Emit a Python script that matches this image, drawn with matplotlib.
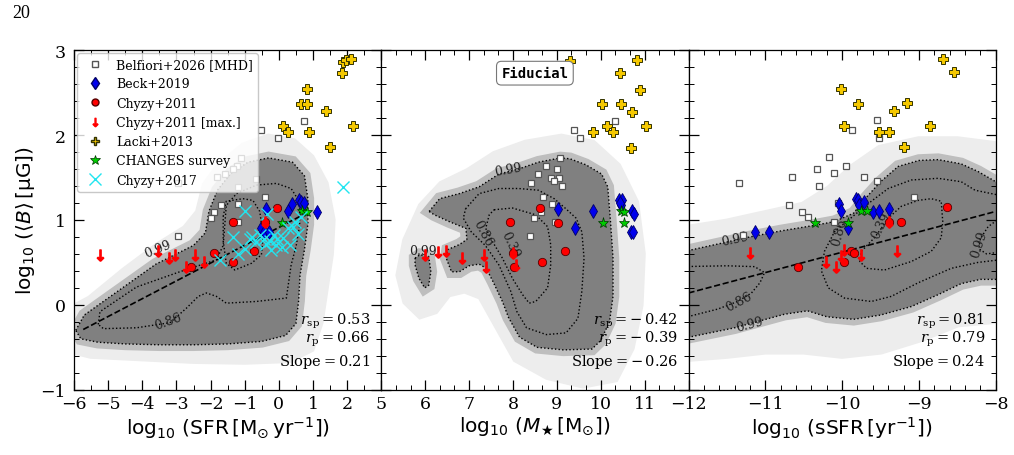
import numpy as np
import matplotlib
matplotlib.use('Agg')
import matplotlib.pyplot as plt
from matplotlib.ticker import MultipleLocator
from matplotlib.lines import Line2D

plt.rcParams['font.family'] = 'DejaVu Serif'
plt.rcParams['mathtext.fontset'] = 'dejavusans'

# ---------------- observations, left panel: SFR ----------------
belf_sfr = [0.75, -0.51, -0.03, -1.12, -1.24, -1.34, -1.58, -1.80, -0.66, -2.95,
            -1.19, -0.42, -1.68, -1.19, -1.91, -1.99, -1.19, -2.95]
belf_b_sfr = [2.17, 2.06, 1.96, 1.73, 1.63, 1.60, 1.54, 1.50, 1.48, 1.43,
              1.39, 1.27, 1.17, 1.19, 1.09, 1.02, 0.98, 0.81]
beck_sfr = [-0.39, 0.27, 0.39, 0.59, 0.66, 0.73, 1.12, -0.51, -0.44, -0.30]
beck_b_sfr = [1.125, 1.10, 1.19, 1.23, 1.21, 1.20, 1.09, 0.91, 0.86, 0.86]
chy_sfr = [-0.04, -1.34, -0.40, -1.90, -0.73, -1.34, -2.58]
chy_b_sfr = [1.14, 0.98, 0.98, 0.61, 0.64, 0.51, 0.45]
chymax_sfr = [-5.24, -3.55, -3.22, -3.05, -2.46, -2.73, -2.19, -0.40]
chymax_b_sfr = [0.59, 0.64, 0.55, 0.59, 0.59, 0.45, 0.50, 0.98]
lacki_sfr = [1.87, 1.97, 2.12, 1.86, 0.83, 0.64, 0.83, 1.37, 0.12, 0.27, 0.87, 2.17, 1.49]
lacki_b_sfr = [2.86, 2.88, 2.89, 2.73, 2.54, 2.36, 2.37, 2.28, 2.11, 2.04, 2.04, 2.11, 1.86]
changes_sfr = [0.68, 0.83, 0.09]
changes_b_sfr = [1.10, 1.09, 0.96]
chy17_sfr = [1.88, -1.0, -0.35, -1.34, -0.78, -1.0, -1.20, -1.73, -0.56, -0.44, -0.27, -0.15, -0.06,
             0.12, 0.10, 0.27, 0.41, 0.32, 0.56, 0.46, 0.66, -0.22, -0.37, -0.66, -0.07, -0.85]
chy17_b_sfr = [1.39, 1.11, 1.07, 0.80, 0.80, 0.66, 0.60, 0.53, 0.82, 0.78, 0.75, 0.82, 0.77,
               0.79, 0.68, 0.90, 0.92, 0.70, 0.84, 0.98, 1.03, 0.65, 0.72, 0.74, 0.71, 0.77]
fit_sfr = [-5.73, 0.85]
fit_b_sfr = [-0.29, 1.09]

# ---------------- middle panel: stellar mass ----------------
belf_ms = [10.32, 9.38, 9.53, 9.08, 8.76, 9.01, 8.56, 8.87, 9.06, 8.94, 9.11, 8.41,
           8.68, 8.90, 8.65, 8.49, 8.95, 8.38]
belf_b_ms = [2.17, 2.06, 1.96, 1.73, 1.64, 1.60, 1.54, 1.49, 1.49, 1.46, 1.40, 1.43,
             1.27, 1.19, 1.09, 1.02, 0.98, 0.81]
beck_ms = [9.03, 9.82, 9.42, 10.41, 10.49, 10.47, 10.45, 10.72, 10.75, 10.70, 10.74]
beck_b_ms = [1.125, 1.10, 0.91, 1.23, 1.24, 1.17, 1.20, 1.10, 1.07, 0.86, 0.86]
chy_ms = [8.61, 9.03, 7.93, 9.19, 7.99, 8.66, 8.03]
chy_b_ms = [1.14, 0.96, 0.98, 0.63, 0.61, 0.50, 0.45]
chymax_ms = [6.0, 6.29, 6.48, 6.85, 7.33, 7.39, 8.06, 8.0]
chymax_b_ms = [0.59, 0.62, 0.64, 0.55, 0.59, 0.44, 0.47, 0.61]
lacki_ms = [9.30, 10.83, 10.45, 10.90, 10.02, 10.47, 10.72, 10.14, 9.82, 10.29, 11.04, 10.70]
lacki_b_ms = [2.87, 2.88, 2.73, 2.53, 2.37, 2.36, 2.27, 2.11, 2.04, 2.04, 2.11, 1.85]
changes_ms = [10.05, 10.47, 10.54, 10.52]
changes_b_ms = [0.96, 1.10, 1.09, 0.96]

# ---------------- right panel: sSFR ----------------
belf_ssfr = [-9.54, -9.87, -9.52, -10.17, -9.95, -10.33, -10.11, -10.65, -9.72, -9.55,
             -11.34, -10.30, -10.06, -10.69, -10.52, -10.44, -10.11, -9.06, -11.29]
belf_b_ssfr = [2.18, 2.06, 1.97, 1.74, 1.64, 1.60, 1.55, 1.50, 1.50, 1.46,
               1.43, 1.40, 1.20, 1.18, 1.09, 1.03, 0.98, 1.27, 0.82]
beck_ssfr = [-11.14, -10.95, -10.04, -10.02, -9.82, -9.79, -9.78, -9.71, -9.60, -9.52, -9.39, -9.92]
beck_b_ssfr = [0.86, 0.86, 1.19, 1.11, 1.25, 1.23, 1.18, 1.21, 1.09, 1.11, 1.13, 0.90]
chy_ssfr = [-8.63, -9.23, -9.39, -9.88, -9.85, -9.97, -10.58]
chy_b_ssfr = [1.15, 0.98, 0.97, 0.64, 0.61, 0.51, 0.45]
chymax_ssfr = [-11.20, -10.21, -10.08, -10.02, -9.97, -9.76, -9.29, -9.39]
chymax_b_ssfr = [0.61, 0.50, 0.45, 0.57, 0.65, 0.59, 0.63, 0.97]
lacki_ssfr = [-8.69, -8.54, -10.02, -9.79, -9.16, -9.32, -9.98, -9.52, -9.39, -8.85, -9.20]
lacki_b_ssfr = [2.89, 2.74, 2.54, 2.37, 2.38, 2.28, 2.11, 2.04, 2.04, 2.11, 1.86]
changes_ssfr = [-10.35, -9.93, -9.75, -9.67]
changes_b_ssfr = [0.96, 0.96, 1.11, 1.10]
fit_ssfr = [-12.0, -8.0]
fit_b_ssfr = [0.14, 1.10]

# correlation numbers printed in each panel
r_sp = [0.53, -0.42, 0.81]
r_p = [0.66, -0.39, 0.79]
slope = [0.21, -0.26, 0.24]

# ---------------- simulation cloud outlines ----------------
halo_sfr_x = [-6.2, -5.5, -4.5, -3.5, -2.7, -2.3, -2.1, -1.7, -1.0, -0.3, 0.4, 0.9, 1.3, 1.5,
              1.45, 1.3, 1.15, 0.9, 0.3, -1.0, -2.5, -4.0, -5.5, -6.2]
halo_sfr_y = [-0.1, 0.05, 0.38, 0.68, 0.88, 1.08, 1.40, 1.62, 1.85, 1.95, 1.90, 1.72, 1.42, 1.0,
              0.6, 0.2, -0.2, -0.5, -0.62, -0.64, -0.63, -0.60, -0.57, -0.5]
c99_sfr_x = [-5.95, -5.7, -5.0, -4.3, -3.6, -3.0, -2.5, -2.15, -2.05, -1.8, -1.4, -0.9, -0.3,
             0.4, 0.75, 0.85, 0.85, 0.75, 0.62, 0.58, 0.5, 0.2, -0.5, -1.5, -2.5, -3.5, -4.5,
             -5.3, -5.8, -5.95]
c99_sfr_y = [-0.30, -0.12, 0.08, 0.28, 0.48, 0.60, 0.70, 0.85, 1.10, 1.35, 1.55, 1.68, 1.73,
             1.68, 1.52, 1.25, 0.95, 0.65, 0.35, 0.05, -0.22, -0.36, -0.43, -0.46, -0.47, -0.47,
             -0.46, -0.44, -0.40, -0.30]
c86_sfr_x = [-5.29, -5.24, -4.65, -4.17, -2.90, -1.83, -1.63, -1.54, -1.24, -0.66, -0.07, 0.36,
             0.61, 0.61, 0.51, 0.36, 0.22, -0.66, -1.54, -1.83, -2.12, -2.36, -2.71, -3.19,
             -4.17, -5.14, -5.29]
c86_sfr_y = [-0.23, -0.08, 0.08, 0.21, 0.39, 0.53, 0.70, 1.17, 1.31, 1.41, 1.43, 1.37, 1.21,
             0.94, 0.70, 0.47, 0.08, 0.04, 0.02, 0.10, 0.14, 0.10, -0.04, -0.21, -0.27, -0.28,
             -0.23]
c39_sfr_x = [-1.63, -1.54, -1.05, -0.76, -0.56, -0.46, -0.51, -0.80, -1.29, -1.54, -1.63, -1.63]
c39_sfr_y = [1.04, 1.22, 1.25, 1.23, 1.10, 0.82, 0.59, 0.49, 0.41, 0.49, 0.75, 1.04]

halo_ms_x = [5.45, 5.6, 5.95, 6.4, 7.0, 7.6, 8.3, 9.1, 9.8, 10.35, 10.75, 10.9, 10.85, 10.65,
             10.3, 9.6, 8.8, 8.1, 7.7, 7.3, 6.9, 6.5, 6.2, 5.9, 5.6]
halo_ms_y = [0.35, 0.75, 1.15, 1.40, 1.55, 1.75, 1.88, 1.95, 1.88, 1.62, 1.2, 0.6, 0.0, -0.5,
             -0.85, -0.92, -0.82, -0.62, -0.25, 0.12, 0.2, 0.15, -0.05, -0.1, 0.05]
c99_ms_x = [6.09, 6.33, 6.78, 7.23, 7.68, 8.13, 8.58, 9.08, 9.30, 9.66, 10.02, 10.16, 10.22,
            10.28, 10.28, 10.2, 10.0, 9.8, 9.15, 8.55, 8.15, 7.9, 7.76, 7.54, 7.39, 7.23, 7.0,
            6.78, 6.6, 6.48, 6.51, 6.78, 6.95, 6.93, 6.55, 6.21, 6.09]
c99_ms_y = [1.10, 1.25, 1.31, 1.39, 1.54, 1.60, 1.68, 1.73, 1.72, 1.65, 1.54, 1.39, 1.0, 0.55,
            0.1, -0.2, -0.42, -0.52, -0.53, -0.50, -0.38, -0.15, 0.04, 0.28, 0.43, 0.48, 0.46,
            0.39, 0.39, 0.55, 0.65, 0.71, 0.77, 0.90, 0.98, 1.06, 1.10]
isl_ms_x = [5.77, 5.88, 6.08, 6.13, 6.08, 5.99, 5.86, 5.77, 5.77]
isl_ms_y = [0.55, 0.59, 0.57, 0.39, 0.23, 0.20, 0.31, 0.47, 0.55]
c86_ms_x = [6.92, 7.23, 7.68, 8.13, 8.58, 8.94, 9.21, 9.44, 9.57, 9.62, 9.57, 9.48, 9.21, 8.76,
            8.31, 8.09, 7.95, 7.68, 7.37, 7.05, 6.87, 6.92]
c86_ms_y = [1.13, 1.31, 1.37, 1.37, 1.35, 1.25, 1.13, 1.02, 0.86, 0.55, 0.16, -0.16, -0.33,
            -0.35, -0.27, -0.08, 0.16, 0.47, 0.70, 0.86, 1.02, 1.13]
c39_ms_x = [7.57, 7.99, 8.52, 8.79, 8.86, 8.86, 8.79, 8.52, 8.37, 8.22, 7.99, 7.76, 7.54, 7.38,
            7.46, 7.57]
c39_ms_y = [1.12, 1.14, 1.06, 0.92, 0.71, 0.47, 0.20, 0.04, 0.02, 0.12, 0.31, 0.55, 0.74, 0.90,
            1.06, 1.12]

halo_ssfr_x = [-12.2, -11.5, -11.0, -10.5, -10.15, -9.85, -9.5, -9.0, -8.5, -7.9, -7.9, -8.5,
               -9.0, -9.5, -10.0, -10.5, -11.0, -11.5, -12.2]
halo_ssfr_y = [0.85, 0.95, 1.05, 1.15, 1.35, 1.60, 1.82, 1.92, 1.92, 1.85, -0.15, -0.2, -0.38,
               -0.52, -0.57, -0.52, -0.52, -0.57, -0.62]
c99up_ssfr_x = [-12.1, -11.6, -11.2, -10.8, -10.4, -10.1, -9.85, -9.7, -9.5, -9.27, -9.0, -8.75,
                -8.45, -8.23, -8.0, -7.9]
c99up_ssfr_y = [0.62, 0.72, 0.80, 0.87, 0.93, 0.98, 1.08, 1.25, 1.45, 1.63, 1.70, 1.71, 1.66,
                1.57, 1.45, 1.40]
c99lo_ssfr_x = [-7.9, -8.2, -8.45, -8.75, -9.1, -9.5, -9.85, -10.2, -10.45, -10.75, -11.4, -12.1]
c99lo_ssfr_y = [0.30, 0.30, 0.25, 0.12, -0.02, -0.12, -0.17, -0.14, -0.07, -0.11, -0.27, -0.40]
c99rt_ssfr_x = [-7.95, -8.1, -8.2, -8.22, -8.12, -7.95]
c99rt_ssfr_y = [1.02, 0.92, 0.78, 0.66, 0.60, 0.62]
c86lf_ssfr_x = [-12.1, -11.5, -11.14, -11.01, -11.07, -11.18, -11.36, -11.62, -12.1]
c86lf_ssfr_y = [0.45, 0.46, 0.45, 0.38, 0.26, 0.14, 0.04, -0.05, -0.16]
c86rt_ssfr_x = [-7.95, -8.27, -8.45, -8.75, -9.10, -9.40, -9.62, -9.85, -10.10, -10.23, -10.27,
                -10.18, -9.97, -9.62, -9.36, -9.01, -8.58, -8.23, -7.95]
c86rt_ssfr_y = [1.29, 1.35, 1.45, 1.49, 1.47, 1.37, 1.22, 1.05, 0.86, 0.63, 0.40, 0.20, 0.08,
                0.04, 0.10, 0.26, 0.43, 0.50, 0.53]
c39_ssfr_x = [-9.49, -9.58, -9.75, -9.77, -9.68, -9.45, -9.10, -8.84, -8.71, -8.69, -8.71,
              -8.84, -9.01, -9.23, -9.40, -9.49]
c39_ssfr_y = [0.90, 0.79, 0.63, 0.51, 0.43, 0.41, 0.51, 0.63, 0.79, 0.98, 1.22, 1.25, 1.23,
              1.16, 1.02, 0.90]


def draw_cloud(ax, hx, hy, dark):
    # pale halo of sparse points, then dense core with a soft edge
    ax.fill(hx, hy, facecolor='#ededed', edgecolor='#ededed', lw=8, zorder=1)
    for dx, dy in dark:
        ax.fill(dx, dy, facecolor='none', edgecolor='#bebebe', lw=9, zorder=1.2)
    for dx, dy in dark:
        ax.fill(dx, dy, facecolor='#808080', lw=0, zorder=1.4)


def draw_lines(ax, lines, labels):
    for lx, ly in lines:
        ax.plot(lx, ly, ls=(0, (1, 1.6)), color='k', lw=1.0, zorder=2)
    for x, y, s, rot in labels:
        ax.text(x, y, s, fontsize=9, rotation=rot, ha='center', va='center',
                color='#222222', zorder=2.5)


def draw_obs(ax, belf, beck, chy, chymax, lacki, changes):
    ax.plot(*belf, 's', ms=5, mfc='white', mec='#555555', mew=0.9, ls='none', zorder=5)
    ax.plot(*beck, 'd', ms=7.5, mfc='#0000ee', mec='#000066', mew=0.6, ls='none', zorder=5)
    ax.plot(*chy, 'o', ms=6, mfc='#ff0000', mec='#550000', mew=0.6, ls='none', zorder=5)
    ax.plot(*chymax, marker=r'$\downarrow$', ms=8, color='#ff0000', ls='none', zorder=6)
    ax.plot(*lacki, 'P', ms=7.5, mfc='#f5c800', mec='#333300', mew=0.7, ls='none', zorder=5)
    ax.plot(*changes, '*', ms=8, mfc='#00cc00', mec='#003300', mew=0.5, ls='none', zorder=5)


def signed(v):
    # reference prints negatives as "= - 0.42" with a spaced minus
    return ('-\\,%.2f' % abs(v)) if v < 0 else ('%.2f' % v)


fig, axes = plt.subplots(1, 3, sharey=True, figsize=(10.14, 4.56), dpi=100)
fig.subplots_adjust(left=0.073, right=0.982, bottom=0.143, top=0.888, wspace=0)
ax1, ax2, ax3 = axes

# left panel
draw_cloud(ax1, halo_sfr_x, halo_sfr_y, [(c99_sfr_x, c99_sfr_y)])
draw_lines(ax1, [(c99_sfr_x, c99_sfr_y), (c86_sfr_x, c86_sfr_y), (c39_sfr_x, c39_sfr_y)],
           [(-3.55, 0.66, '0.99', 22), (-3.24, -0.19, '0.86', 20)])
ax1.plot(fit_sfr, fit_b_sfr, ls='--', color='k', lw=1.2, zorder=3)
draw_obs(ax1, (belf_sfr, belf_b_sfr), (beck_sfr, beck_b_sfr), (chy_sfr, chy_b_sfr),
         (chymax_sfr, chymax_b_sfr), (lacki_sfr, lacki_b_sfr), (changes_sfr, changes_b_sfr))
ax1.plot(chy17_sfr, chy17_b_sfr, 'x', ms=8.5, mew=1.0, color='#22e5f0', ls='none', zorder=5.5)

# middle panel
draw_cloud(ax2, halo_ms_x, halo_ms_y, [(c99_ms_x, c99_ms_y), (isl_ms_x, isl_ms_y)])
draw_lines(ax2, [(c99_ms_x, c99_ms_y), (isl_ms_x, isl_ms_y), (c86_ms_x, c86_ms_y),
                 (c39_ms_x, c39_ms_y)],
           [(7.88, 1.60, '0.99', 10), (5.95, 0.64, '0.99', 0), (7.32, 0.85, '0.86', -62),
            (7.93, 0.72, '0.39', -65)])
draw_obs(ax2, (belf_ms, belf_b_ms), (beck_ms, beck_b_ms), (chy_ms, chy_b_ms),
         (chymax_ms, chymax_b_ms), (lacki_ms, lacki_b_ms), (changes_ms, changes_b_ms))
ax2.text(0.5, 0.932, 'Fiducial', transform=ax2.transAxes, ha='center', va='center',
         family='DejaVu Sans Mono', weight='bold', fontsize=10, zorder=7,
         bbox=dict(boxstyle='round,pad=0.35', fc='white', ec='#777777', lw=0.8))

# right panel
dark3_x = c99up_ssfr_x + c99lo_ssfr_x
dark3_y = c99up_ssfr_y + c99lo_ssfr_y
draw_cloud(ax3, halo_ssfr_x, halo_ssfr_y, [(dark3_x, dark3_y)])
draw_lines(ax3, [(c99up_ssfr_x, c99up_ssfr_y), (c99lo_ssfr_x, c99lo_ssfr_y),
                 (c99rt_ssfr_x, c99rt_ssfr_y), (c86lf_ssfr_x, c86lf_ssfr_y),
                 (c86rt_ssfr_x, c86rt_ssfr_y), (c39_ssfr_x, c39_ssfr_y)],
           [(-11.40, 0.78, '0.99', 12), (-11.35, 0.04, '0.86', 28), (-11.2, -0.22, '0.99', 15),
            (-10.03, 0.86, '0.86', 75), (-9.49, 0.94, '0.39', 65), (-8.22, 0.72, '0.99', 72)])
ax3.plot(fit_ssfr, fit_b_ssfr, ls='--', color='k', lw=1.2, zorder=3)
draw_obs(ax3, (belf_ssfr, belf_b_ssfr), (beck_ssfr, beck_b_ssfr), (chy_ssfr, chy_b_ssfr),
         (chymax_ssfr, chymax_b_ssfr), (lacki_ssfr, lacki_b_ssfr), (changes_ssfr, changes_b_ssfr))

# correlation text
for ax, a, b, s in zip(axes, r_sp, r_p, slope):
    kw = dict(transform=ax.transAxes, ha='right', va='center', fontsize=10.5,
              math_fontfamily='dejavuserif', zorder=8)
    ax.text(0.965, 0.205, r'$r_{\rm sp} = ' + signed(a) + '$', **kw)
    ax.text(0.965, 0.152, r'$r_{\rm p} = ' + signed(b) + '$', **kw)
    ax.text(0.965, 0.085, r'$\rm Slope = ' + signed(s) + '$', **kw)

# axes, ticks
ax1.set_xlim(-6, 3)
ax2.set_xlim(5, 12)
ax3.set_xlim(-12, -8)
ax1.set_ylim(-1, 3)
ax1.set_xticks(range(-6, 3))
ax2.set_xticks(range(5, 12))
ax3.set_xticks(range(-12, -7))
ax1.xaxis.set_minor_locator(MultipleLocator(0.5))
ax2.xaxis.set_minor_locator(MultipleLocator(1 / 3))
ax3.xaxis.set_minor_locator(MultipleLocator(0.2))
ax1.set_yticks([-1, 0, 1, 2, 3])
ax1.yaxis.set_minor_locator(MultipleLocator(0.2))
for ax in axes:
    ax.tick_params(which='both', direction='in', top=True, right=True, labelsize=12.5)
    ax.tick_params(which='major', length=7, width=0.9)
    ax.tick_params(which='minor', length=3.5, width=0.7)
    ax.tick_params(axis='y', pad=6)
    for sp in ax.spines.values():
        sp.set_linewidth(0.9)

ax1.set_xlabel(r'$\log_{10}\,(\mathrm{SFR}\,[\mathrm{M_{\odot}\,yr^{-1}}])$', fontsize=14.5, labelpad=2)
ax2.set_xlabel(r'$\log_{10}\,(M_{\bigstar}\,[\mathrm{M_{\odot}}])$', fontsize=14.5, labelpad=2)
ax3.set_xlabel(r'$\log_{10}\,(\mathrm{sSFR}\,[\mathrm{yr^{-1}}])$', fontsize=14.5, labelpad=2)
ax1.set_ylabel('$\\log_{10}\\,(\\langle B\\rangle\\,[\\mathrm{\u03bcG}])$', fontsize=14.5, labelpad=2)

# legend
handles = [
    Line2D([], [], marker='s', ms=4, mfc='white', mec='#555555', ls='none'),
    Line2D([], [], marker='d', ms=6, mfc='#0000ee', mec='#000066', ls='none'),
    Line2D([], [], marker='o', ms=5, mfc='#ff0000', mec='#550000', ls='none'),
    Line2D([], [], marker=r'$\downarrow$', ms=6, color='#ff0000', ls='none'),
    Line2D([], [], marker='P', ms=6, mfc='#f5c800', mec='#333300', ls='none'),
    Line2D([], [], marker='*', ms=7, mfc='#00cc00', mec='#003300', mew=0.5, ls='none'),
    Line2D([], [], marker='x', ms=8, color='#22e5f0', ls='none'),
]
names = ['Belfiori+2026 [MHD]', 'Beck+2019', 'Chyzy+2011', 'Chyzy+2011 [max.]',
         'Lacki+2013', 'CHANGES survey', 'Chyzy+2017']
leg = ax1.legend(handles, names, loc='upper left', fontsize=9, borderaxespad=0.25,
                 handletextpad=0.7, labelspacing=0.5, framealpha=0.8, edgecolor='#bbbbbb')
leg.set_zorder(9)

fig.text(0.012, 0.99, '20', family='Liberation Serif', fontsize=13, va='top', ha='left')

fig.savefig('out.png', dpi=100)
